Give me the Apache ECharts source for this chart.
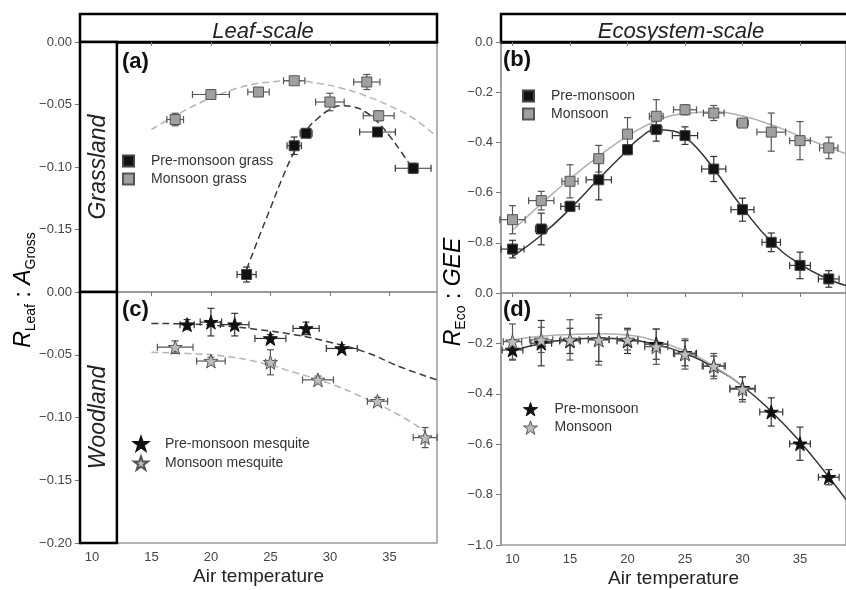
<!DOCTYPE html>
<html>
<head>
<meta charset="utf-8">
<script src="https://cdn.jsdelivr.net/npm/echarts@6/dist/echarts.min.js"></script>
<style>
  html, body { margin: 0; padding: 0; background: #fff; }
  #chart { width: 846px; height: 590px; }
</style>
</head>
<body>
<div id="chart"></div>
<script>
// rows are [air temperature, ratio, x error, y error]
const grassPre = [[23, -0.186, 0.8, 0.006], [27, -0.083, 0.6, 0.007], [28, -0.073, 0.5, 0.003], [34, -0.072, 1.5, 0.003], [37, -0.101, 1.5, 0.004]];
const grassMon = [[17, -0.062, 0.7, 0.005], [20, -0.042, 1.55, 0.002], [24, -0.040, 0.9, 0.002], [27, -0.031, 0.9, 0.003], [30, -0.048, 1.2, 0.007], [33.1, -0.032, 1.1, 0.006], [34.1, -0.059, 1.3, 0.004]];
const mesqPre = [[18, -0.026, 0.6, 0.004], [20, -0.024, 0.9, 0.011], [22, -0.026, 1.2, 0.009], [25, -0.037, 1.3, 0.003], [28, -0.029, 1.1, 0.005], [31, -0.045, 1.3, 0.003]];
const mesqMon = [[17, -0.044, 1.5, 0.005], [20, -0.055, 1.2, 0.003], [25, -0.056, 0.4, 0.010], [29, -0.070, 1.3, 0.003], [34, -0.087, 0.85, 0.003], [38, -0.116, 1.0, 0.008]];
const ecoPreB = [[10, -0.825, 1.0, 0.035], [12.5, -0.745, 0.5, 0.063], [15, -0.655, 0.8, 0.02], [17.5, -0.549, 1.1, 0.08], [20, -0.429, 0.4, 0.02], [22.5, -0.349, 0.5, 0.046], [25, -0.373, 1.1, 0.035], [27.5, -0.506, 1.05, 0.05], [30, -0.668, 1.0, 0.046], [32.5, -0.798, 0.8, 0.037], [35, -0.89, 0.9, 0.053], [37.5, -0.944, 0.9, 0.033]];
const ecoMonB = [[10, -0.708, 1.1, 0.056], [12.5, -0.632, 1.1, 0.037], [15, -0.555, 0.7, 0.066], [17.5, -0.465, 0.4, 0.053], [20, -0.367, 0.4, 0.066], [22.5, -0.296, 0.6, 0.066], [25, -0.27, 1.0, 0.02], [27.5, -0.283, 0.9, 0.03], [30, -0.323, 0.5, 0.015], [32.5, -0.359, 1.25, 0.076], [35, -0.393, 0.9, 0.076], [37.5, -0.422, 0.8, 0.043]];
const ecoPreD = [[10, -0.226, 0.9, 0.04], [12.5, -0.199, 0.9, 0.09], [15, -0.19, 0.9, 0.05], [17.5, -0.185, 0.9, 0.086], [20, -0.19, 0.9, 0.05], [22.5, -0.203, 1.0, 0.06], [25, -0.239, 1.0, 0.05], [27.5, -0.29, 1.0, 0.04], [30, -0.378, 1.1, 0.045], [32.5, -0.472, 1.0, 0.056], [35, -0.598, 0.9, 0.066], [37.5, -0.731, 0.9, 0.03]];
const ecoMonD = [[10, -0.193, 0.8, 0.07], [12.5, -0.186, 1.0, 0.05], [15, -0.186, 0.8, 0.08], [17.5, -0.186, 0.9, 0.1], [20, -0.186, 0.9, 0.04], [22.5, -0.213, 1.0, 0.07], [25, -0.242, 0.9, 0.06], [27.5, -0.29, 0.9, 0.05], [30, -0.382, 1.1, 0.05]];

// fitted curves
const grassPreFit = [[23, -0.182], [24, -0.157], [25, -0.133], [26, -0.109], [27, -0.088], [28, -0.071], [29, -0.061], [30, -0.054], [31, -0.051], [32, -0.052], [33, -0.056], [34, -0.064], [35, -0.075], [36, -0.088], [37, -0.102]];
const grassMonFit = [[15, -0.070], [17, -0.059], [19, -0.049], [21, -0.041], [23, -0.035], [25, -0.032], [27, -0.031], [29, -0.033], [31, -0.037], [33, -0.043], [35, -0.051], [37, -0.061], [39, -0.076]];
const mesqPreFit = [[15, -0.025], [18, -0.0255], [21, -0.027], [24, -0.030], [27, -0.034], [30, -0.040], [33, -0.048], [36, -0.060], [39, -0.070]];
const mesqMonFit = [[15, -0.048], [18, -0.049], [21, -0.051], [24, -0.056], [27, -0.064], [30, -0.073], [33, -0.085], [36, -0.099], [38, -0.111]];
const ecoPreFitB = [[10, -0.855], [12.5, -0.77], [15, -0.665], [17.5, -0.545], [20, -0.43], [21, -0.385], [22.5, -0.35], [24, -0.355], [25, -0.38], [26, -0.42], [27.5, -0.505], [30, -0.66], [32.5, -0.795], [35, -0.885], [37.5, -0.945], [39, -0.97]];
const ecoMonFitB = [[10, -0.75], [12.5, -0.645], [15, -0.545], [17.5, -0.455], [20, -0.375], [22.5, -0.315], [25, -0.285], [27.5, -0.278], [30, -0.295], [32.5, -0.33], [35, -0.375], [37.5, -0.42], [39, -0.445]];
const ecoPreFitD = [[10, -0.23], [12.5, -0.2], [15, -0.185], [17.5, -0.18], [20, -0.185], [22.5, -0.205], [25, -0.24], [27.5, -0.295], [30, -0.37], [32.5, -0.47], [35, -0.59], [37.5, -0.73], [39, -0.82]];
const ecoMonFitD = [[10, -0.185], [12.5, -0.172], [15, -0.165], [17.5, -0.162], [20, -0.167], [22.5, -0.19], [25, -0.23], [27.5, -0.29], [30, -0.37]];

const tempTicks = [10, 15, 20, 25, 30, 35];
const stripEdge = 12.1;

const FONT = '"Liberation Sans", Arial, sans-serif';
const STAR = 'path://M50 0 L62 35 L98 35 L69 57 L80 92 L50 71 L20 92 L31 57 L2 35 L38 35 Z';

function fmt(digits) {
  return v => (v < -1e-9 ? '\u2212' : '') + Math.abs(v).toFixed(digits);
}

function errorBars(params, api) {
  const x = api.value(0), y = api.value(1), xe = api.value(2), ye = api.value(3);
  const p = api.coord([x, y]);
  const x0 = api.coord([x - xe, y])[0], x1 = api.coord([x + xe, y])[0];
  const y0 = api.coord([x, y + ye])[1], y1 = api.coord([x, y - ye])[1];
  const cap = 3.5;
  const style = { stroke: api.visual('color'), lineWidth: 1.2 };
  const seg = (a, b, c, d) => ({ type: 'line', shape: { x1: a, y1: b, x2: c, y2: d }, style: style });
  const kids = [];
  if (xe > 0) kids.push(seg(x0, p[1], x1, p[1]), seg(x0, p[1] - cap, x0, p[1] + cap), seg(x1, p[1] - cap, x1, p[1] + cap));
  if (ye > 0) kids.push(seg(p[0], y0, p[0], y1), seg(p[0] - cap, y0, p[0] + cap, y0), seg(p[0] - cap, y1, p[0] + cap, y1));
  return { type: 'group', children: kids };
}

function xAxisOf(grid, bottom) {
  return {
    type: 'value', gridIndex: grid, min: 9, max: 39,
    splitLine: { show: false },
    axisLine: { lineStyle: bottom ? { color: '#999', width: 1.5 } : { color: '#000', width: 2.5 } },
    axisTick: { customValues: tempTicks, length: 4, lineStyle: { color: '#777' } },
    axisLabel: { show: bottom, customValues: tempTicks, margin: 8, color: '#444', fontSize: 13, fontFamily: FONT },
    name: bottom ? 'Air temperature' : '', nameLocation: 'middle', nameGap: 24,
    nameTextStyle: { fontSize: 19, color: '#222', fontFamily: FONT }
  };
}

function yAxisOf(grid, min, step, digits, hideMin, dark) {
  return {
    type: 'value', gridIndex: grid, min: min, max: 0, interval: step,
    splitLine: { show: false },
    axisLine: { lineStyle: dark ? { color: '#000', width: 2.5 } : { color: '#999', width: 1.5 } },
    axisTick: { length: 5, lineStyle: { color: '#777' } },
    axisLabel: { showMinLabel: !hideMin, formatter: fmt(digits), margin: 8, color: '#444', fontSize: 13, fontFamily: FONT }
  };
}

function fitLine(data, xi, color, dashed, width) {
  return {
    type: 'line', xAxisIndex: xi, yAxisIndex: xi, data: data, smooth: true,
    symbol: 'none', silent: true, z: 2,
    lineStyle: { color: color, width: width || 1.5, type: dashed ? [7, 4] : 'solid' }
  };
}

function bars(data, xi, color) {
  return {
    type: 'custom', xAxisIndex: xi, yAxisIndex: xi, data: data, renderItem: errorBars,
    encode: { x: 0, y: 1 }, itemStyle: { color: color }, silent: true, z: 3
  };
}

function points(name, data, xi, symbol, size, fill, border) {
  return {
    type: 'scatter', name: name, xAxisIndex: xi, yAxisIndex: xi, data: data,
    encode: { x: 0, y: 1 }, symbol: symbol, symbolSize: size, z: 4,
    itemStyle: { color: fill, borderColor: border, borderWidth: 1, opacity: 1 }
  };
}

function strip(label) {
  return {
    silent: true,
    itemStyle: { color: '#fff', borderColor: '#000', borderWidth: 2.5 },
    label: { show: true, position: 'inside', rotate: 90, formatter: label, fontSize: 23, fontStyle: 'italic', color: '#222', fontFamily: FONT },
    data: [[{ xAxis: 9, yAxis: 0 }, { xAxis: stripEdge, yAxis: -0.2 }]]
  };
}

function legendOf(left, top, size, items) {
  return {
    orient: 'vertical', left: left, top: top, itemWidth: size, itemHeight: size, itemGap: 4,
    selectedMode: false,
    textStyle: { fontSize: 14, color: '#333', fontFamily: FONT, padding: [0, 0, 0, 12] },
    data: items
  };
}

const panelLabel = (txt, x, y) => ({
  type: 'text', x: x, y: y, z: 10,
  style: { text: txt, font: 'bold 22px ' + FONT, fill: '#111', textVerticalAlign: 'middle', verticalAlign: 'middle' }
});

const header = (txt, x, w, cx) => ({
  type: 'group', z: 10,
  children: [
    { type: 'rect', shape: { x: x, y: 14, width: w, height: 28 }, style: { fill: '#fff', stroke: '#000', lineWidth: 2.5 } },
    { type: 'text', x: cx, y: 32, style: { text: txt, font: 'italic 22px ' + FONT, fill: '#222', textAlign: 'center', align: 'center', textVerticalAlign: 'middle', verticalAlign: 'middle' } }
  ]
});

const axisTitle = (txt, x, y) => ({
  type: 'text', x: x, y: y, rotation: Math.PI / 2, z: 10,
  style: {
    text: txt, textAlign: 'center', align: 'center', textVerticalAlign: 'middle', verticalAlign: 'middle',
    rich: {
      m: { fontSize: 23, fontStyle: 'italic', fontFamily: FONT, color: '#222', lineHeight: 28 },
      n: { fontSize: 23, fontFamily: FONT, color: '#222', lineHeight: 28 },
      s: { fontSize: 14, fontFamily: FONT, color: '#222', lineHeight: 10, verticalAlign: 'bottom' }
    }
  }
});

const chart = echarts.init(document.getElementById('chart'));
chart.setOption({
  animation: false,
  backgroundColor: '#fff',
  grid: [
    { left: 80, top: 42, width: 357, height: 250, show: true, borderColor: '#999', borderWidth: 1.5 },
    { left: 80, top: 292, width: 357, height: 251, show: true, borderColor: '#999', borderWidth: 1.5 },
    { left: 501, top: 42, width: 358, height: 251, show: true, borderColor: '#999', borderWidth: 1.5 },
    { left: 501, top: 293, width: 358, height: 252, show: true, borderColor: '#999', borderWidth: 1.5 }
  ],
  xAxis: [xAxisOf(0, false), xAxisOf(1, true), xAxisOf(2, false), xAxisOf(3, true)],
  yAxis: [
    yAxisOf(0, -0.2, 0.05, 2, true, true),
    yAxisOf(1, -0.2, 0.05, 2, false, true),
    yAxisOf(2, -1, 0.2, 1, true, false),
    yAxisOf(3, -1, 0.2, 1, false, false)
  ],
  legend: [
    legendOf(117, 149, 11, [{ name: 'Pre-monsoon grass', icon: 'rect' }, { name: 'Monsoon grass', icon: 'rect' }]),
    legendOf(517, 84, 11, [{ name: 'Pre-monsoon', icon: 'rect' }, { name: 'Monsoon', icon: 'rect' }]),
    legendOf(128, 431, 14, [{ name: 'Pre-monsoon mesquite', icon: STAR }, { name: 'Monsoon mesquite', icon: STAR }]),
    legendOf(518, 397, 14, [
      { name: 'Pre-monsoon', icon: STAR, itemStyle: { color: '#111', borderColor: '#111', borderWidth: 1 } },
      { name: 'Monsoon', icon: STAR, itemStyle: { color: '#bdbdbd', borderColor: '#555', borderWidth: 1 } }
    ])
  ],
  graphic: [
    header('Leaf-scale', 80, 357, 263),
    header('Ecosystem-scale', 501, 360, 681),
    panelLabel('(a)', 122, 62),
    panelLabel('(b)', 503, 60),
    panelLabel('(c)', 122, 310),
    panelLabel('(d)', 503, 310),
    axisTitle('{m|R}{s|Leaf}{n| : }{m|A}{s|Gross}', 24, 290),
    axisTitle('{m|R}{s|Eco}{n| : }{m|GEE}', 454, 292)
  ],
  series: [
    Object.assign(fitLine(grassMonFit, 0, '#b5b5b5', true), { markArea: strip('Grassland') }),
    fitLine(grassPreFit, 0, '#3a3a3a', true),
    bars(grassMon, 0, '#555'),
    bars(grassPre, 0, '#333'),
    points('Monsoon grass', grassMon, 0, 'rect', 10, '#a0a0a0', '#555'),
    points('Pre-monsoon grass', grassPre, 0, 'rect', 10, '#111', '#444'),

    Object.assign(fitLine(mesqMonFit, 1, '#b5b5b5', true), { markArea: strip('Woodland') }),
    fitLine(mesqPreFit, 1, '#3a3a3a', true),
    bars(mesqMon, 1, '#555'),
    bars(mesqPre, 1, '#333'),
    points('Monsoon mesquite', mesqMon, 1, STAR, 14, '#bdbdbd', '#555'),
    points('Pre-monsoon mesquite', mesqPre, 1, STAR, 14, '#111', '#111'),

    fitLine(ecoMonFitB, 2, '#b0b0b0', false),
    fitLine(ecoPreFitB, 2, '#333', false),
    bars(ecoMonB, 2, '#555'),
    bars(ecoPreB, 2, '#333'),
    points('Monsoon', ecoMonB, 2, 'rect', 10, '#a0a0a0', '#555'),
    points('Pre-monsoon', ecoPreB, 2, 'rect', 10, '#111', '#444'),

    fitLine(ecoPreFitD, 3, '#333', false),
    fitLine(ecoMonFitD, 3, '#b0b0b0', false),
    bars(ecoPreD, 3, '#333'),
    bars(ecoMonD, 3, '#555'),
    points('Pre-monsoon ', ecoPreD, 3, STAR, 14, '#111', '#111'),
    points('Monsoon ', ecoMonD, 3, STAR, 14, '#bdbdbd', '#555')
  ]
});
</script>
</body>
</html>
